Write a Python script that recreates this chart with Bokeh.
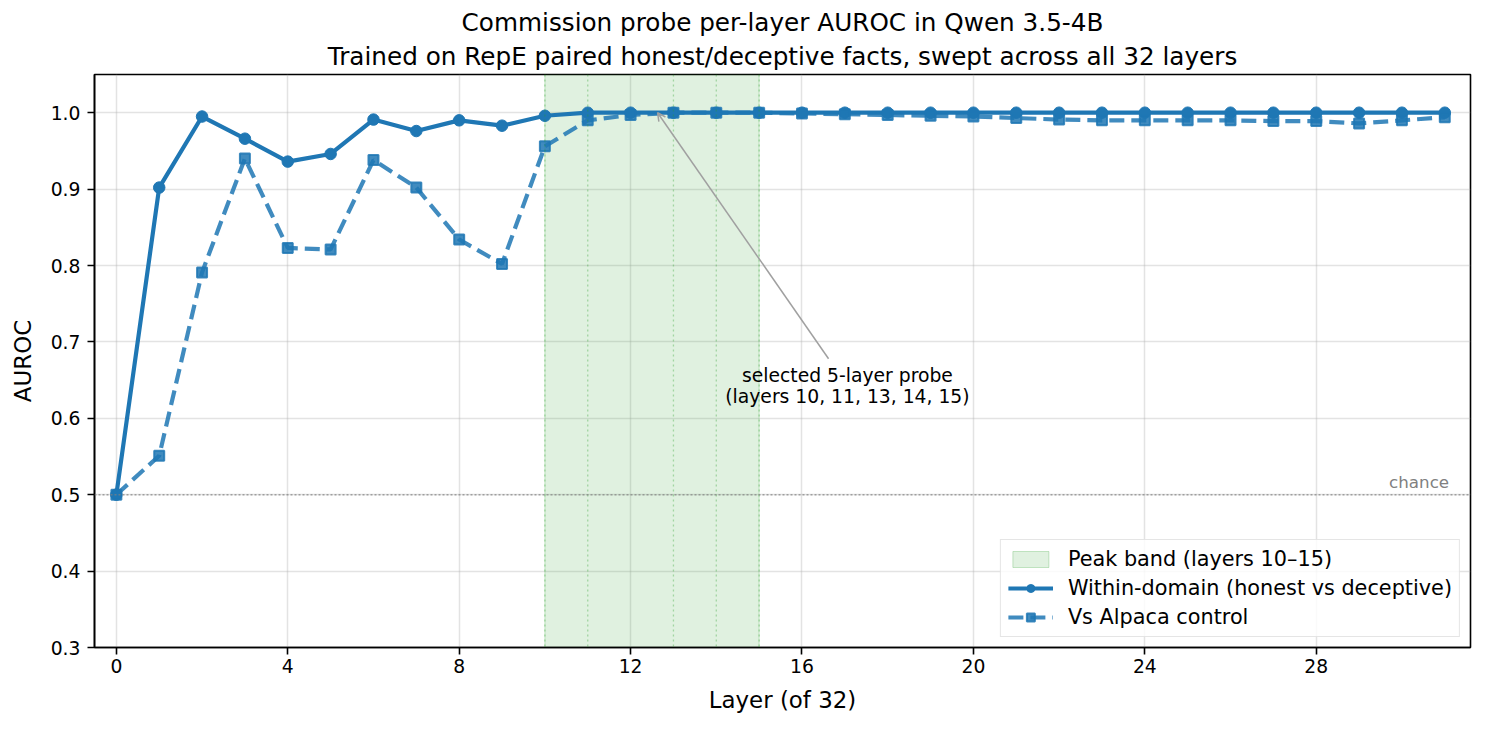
from bokeh.plotting import figure
from bokeh.models import (Range1d, FixedTicker, Span, Label, Arrow, OpenHead,
                          Legend, LegendItem, Title, PrintfTickFormatter)
from bokeh.embed import file_html
from bokeh.resources import INLINE

# ---------------- data ----------------
layers = list(range(32))
within_domain = [0.500, 0.902, 0.995, 0.966, 0.936, 0.946, 0.991, 0.976, 0.990, 0.983,
                 0.996, 1.000, 1.000, 1.000, 1.000, 1.000, 1.000, 1.000, 1.000, 1.000,
                 1.000, 1.000, 1.000, 1.000, 1.000, 1.000, 1.000, 1.000, 1.000, 1.000,
                 1.000, 1.000]
vs_alpaca = [0.500, 0.551, 0.791, 0.940, 0.823, 0.821, 0.938, 0.902, 0.834, 0.802,
             0.956, 0.990, 0.997, 1.000, 1.000, 1.000, 0.999, 0.998, 0.997, 0.996,
             0.995, 0.993, 0.991, 0.990, 0.990, 0.990, 0.990, 0.989, 0.989, 0.986,
             0.990, 0.994]
x_ticks = [0, 4, 8, 12, 16, 20, 24, 28]
y_ticks = [0.3, 0.4, 0.5, 0.6, 0.7, 0.8, 0.9, 1.0]
band_start, band_end = 10, 15
selected_layers = [10, 11, 13, 14, 15]
chance_level = 0.5

title_line1 = "Commission probe per-layer AUROC in Qwen 3.5-4B"
title_line2 = "Trained on RepE paired honest/deceptive facts, swept across all 32 layers"
annot_lines = ["selected 5-layer probe", "(layers 10, 11, 13, 14, 15)"]

FONT = "DejaVu Sans"
BLUE = "#1f77b4"
GREEN = "#2ca02c"

p = figure(width=1480, height=722, output_backend="svg", toolbar_location=None,
           x_range=Range1d(-0.51, 31.6), y_range=Range1d(0.3, 1.05),
           min_border_left=94, min_border_right=10, min_border_top=74,
           min_border_bottom=75)
p.background_fill_color = "white"
p.border_fill_color = "white"
p.outline_line_color = "black"
p.outline_line_width = 1.6

# titles (added later = further from plot)
t2 = Title(text=title_line2, align="center", text_font=FONT, text_font_size="24.7px",
           text_font_style="normal", text_color="black", standoff=7, text_line_height=1.0)
t1 = Title(text=title_line1, align="center", text_font=FONT, text_font_size="24.7px",
           text_font_style="normal", text_color="black", standoff=0, text_line_height=1.0)
p.add_layout(t2, "above")
p.add_layout(t1, "above")

# axes
for ax in (p.xaxis, p.yaxis):
    ax.axis_line_color = "black"
    ax.axis_line_width = 1.6
    ax.major_tick_line_color = "black"
    ax.major_tick_line_width = 1.6
    ax.major_tick_out = 7
    ax.major_tick_in = 0
    ax.minor_tick_line_color = None
    ax.major_label_text_font = FONT
    ax.major_label_text_font_size = "18.75px"
    ax.major_label_text_color = "black"
    ax.axis_label_text_font = FONT
    ax.axis_label_text_font_size = "22.9px"
    ax.axis_label_text_font_style = "normal"
    ax.axis_label_text_color = "black"

p.xaxis.ticker = FixedTicker(ticks=x_ticks)
p.yaxis.ticker = FixedTicker(ticks=y_ticks)
p.yaxis.formatter = PrintfTickFormatter(format="%.1f")
p.xaxis.axis_label = "Layer (of 32)"
p.yaxis.axis_label = "AUROC"
p.xaxis.major_label_standoff = 4
p.xaxis.axis_label_standoff = 11
p.yaxis.major_label_standoff = 7
p.yaxis.axis_label_standoff = 12

p.xgrid.ticker = FixedTicker(ticks=x_ticks)
p.ygrid.ticker = FixedTicker(ticks=y_ticks)
for g in (p.xgrid, p.ygrid):
    g.grid_line_color = "#b0b0b0"
    g.grid_line_alpha = 0.35
    g.grid_line_width = 1.5

# peak band
band_r = p.quad(left=[band_start], right=[band_end], bottom=[0.0], top=[2.0],
                fill_color=GREEN, fill_alpha=0.15, line_color=GREEN, line_alpha=0.25,
                line_width=1)
for l in selected_layers:
    p.add_layout(Span(location=l, dimension="height", line_color=GREEN,
                      line_alpha=0.35, line_dash="2 3", line_width=1.3))

# chance line
p.add_layout(Span(location=chance_level, dimension="width", line_color="gray",
                  line_alpha=0.7, line_dash="2 2", line_width=1.5))
p.add_layout(Label(x=31.1, y=chance_level, text="chance", text_align="right",
                   text_baseline="bottom", y_offset=3, text_color="gray",
                   text_font=FONT, text_font_size="16.7px"))

# series
r1 = p.line(layers, within_domain, line_color=BLUE, line_width=4.2)
s1 = p.scatter(layers, within_domain, marker="circle", size=11.5,
               fill_color=BLUE, line_color=BLUE, line_width=1)
r2 = p.line(layers, vs_alpaca, line_color=BLUE, line_alpha=0.85, line_width=4.2,
            line_dash="15 7")
s2 = p.scatter(layers, vs_alpaca, marker="square", size=10,
               fill_color=BLUE, fill_alpha=0.85, line_color=BLUE, line_alpha=0.85,
               line_width=2)

# annotation
p.add_layout(Arrow(end=OpenHead(size=8, line_color="#a0a0a0", line_width=1.5),
                   x_start=16.62, y_start=0.678, x_end=12.63, y_end=1.0,
                   line_color="#a0a0a0", line_width=1.5))
p.add_layout(Label(x=17.06, y=0.6558, text=annot_lines[0], text_align="center",
                   text_baseline="middle", text_font=FONT, text_font_size="18.75px",
                   text_color="black"))
p.add_layout(Label(x=17.06, y=0.6283, text=annot_lines[1], text_align="center",
                   text_baseline="middle", text_font=FONT, text_font_size="18.75px",
                   text_color="black"))

# legend
legend = Legend(items=[
    LegendItem(label="Peak band (layers 10\u201315)", renderers=[band_r]),
    LegendItem(label="Within-domain (honest vs deceptive)", renderers=[r1, s1]),
    LegendItem(label="Vs Alpaca control", renderers=[r2, s2]),
], location="bottom_right")
legend.label_text_font = FONT
legend.label_text_font_size = "20.8px"
legend.label_text_color = "black"
legend.border_line_color = "#cccccc"
legend.border_line_width = 1.5
legend.background_fill_alpha = 0.8
legend.margin = 10
legend.padding = 7
legend.spacing = 5
legend.glyph_width = 45
legend.glyph_height = 20
legend.label_standoff = 15
legend.label_height = 20
p.add_layout(legend)

open("out.html", "w").write(file_html(p, INLINE))
